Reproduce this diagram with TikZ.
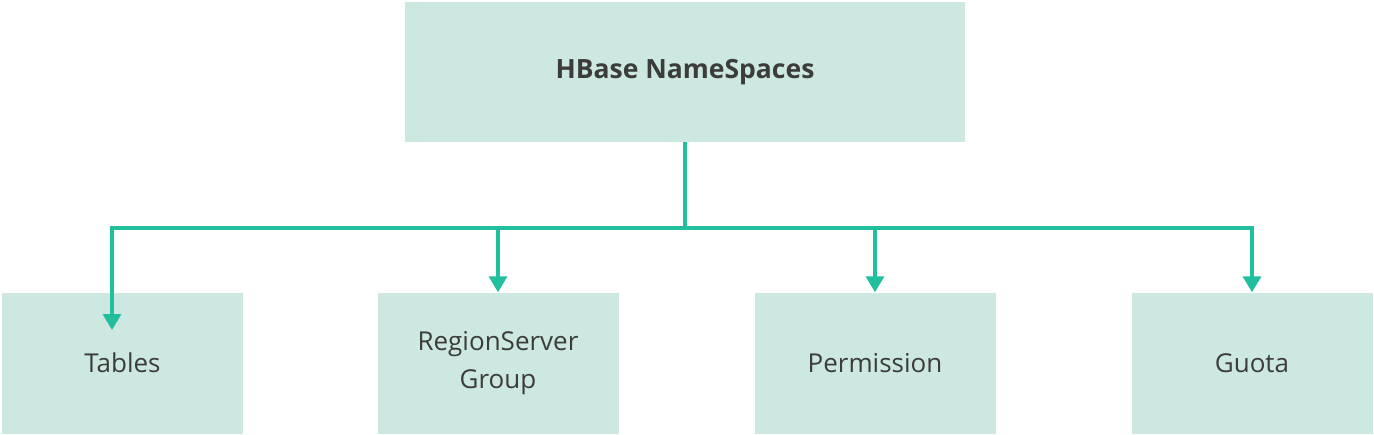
\documentclass[tikz,border=0pt]{standalone}
\usepackage{fontspec}
\setmainfont{Open Sans}
\usetikzlibrary{arrows.meta}
\definecolor{boxfill}{HTML}{CDE8E0}
\definecolor{linkcol}{HTML}{21BF9E}
\definecolor{txt}{HTML}{3C3C3C}
\tikzset{
  box/.style={fill=boxfill, text=txt, align=center, inner sep=0pt,
    minimum width=241pt, minimum height=141pt, font=\fontsize{26}{38}\selectfont},
  link/.style={draw=linkcol, line width=3.5pt},
}
\begin{document}
\begin{tikzpicture}[x=1pt, y=-1pt, >={Triangle[width=18pt,length=16pt]}, line join=miter]
  \useasboundingbox (0,0) rectangle (1374,434);
  \def\rowy{363} \def\busy{228} % Zeilen
  \node[box, minimum width=560pt, minimum height=140pt, font=\fontsize{26.5}{38}\selectfont\bfseries] (ns) at (685,72) {HBase NameSpaces};
  \node[box] (tables) at (122.5,\rowy) {Tables};
  \node[box] (group) at (498,\rowy) {RegionServer\\Group};
  \node[box] (perm) at (875,\rowy) {Permission};
  \node[box] (quota) at (1252,\rowy) {Guota};
  \coordinate (hub) at (685,\busy);
  \coordinate (tabin) at (112,330);
  \draw[link] (ns.south) -- (hub);
  \draw[link,->] (hub) -| (tabin);
  \draw[link,->] (hub) -| (group.north);
  \draw[link,->] (hub) -| (perm.north);
  \draw[link,->] (hub) -| (quota.north);
\end{tikzpicture}
\end{document}
